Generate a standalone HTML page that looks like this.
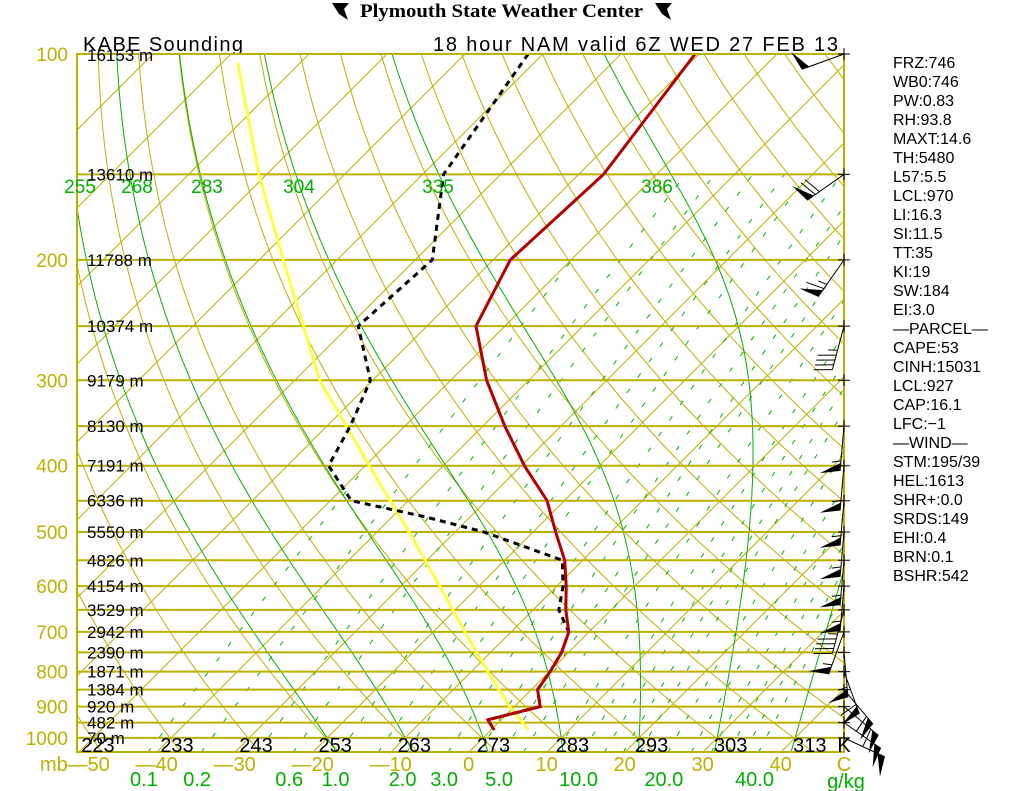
<!DOCTYPE html>
<html><head><meta charset="utf-8"><title>KABE Sounding</title>
<style>
html,body{margin:0;padding:0;background:#fff;width:1024px;height:791px;overflow:hidden}
svg{display:block}
text{font-family:"Liberation Sans",sans-serif}
</style></head>
<body>
<svg id="chart" width="1024" height="791" viewBox="0 0 1024 791" xmlns="http://www.w3.org/2000/svg">
<defs><clipPath id="plotclip"><rect x="77" y="54" width="767" height="698"/></clipPath></defs>
<g>
  <path d="M332 3 L349 3 L344 9 L348 20 L339 14 Z" fill="#000"/>
  <text x="360" y="17" textLength="283" lengthAdjust="spacingAndGlyphs" font-weight="bold" font-size="19" style="font-family:'Liberation Serif',serif">Plymouth State Weather Center</text>
  <path d="M655 3 L672 3 L667 9 L671 20 L662 14 Z" fill="#000"/>
</g>
<text x="83" y="51" font-size="20" textLength="160" lengthAdjust="spacing" fill="#000">KABE Sounding</text>
<text x="433" y="51" font-size="20" textLength="405" lengthAdjust="spacing" fill="#000">18 hour NAM valid 6Z WED 27 FEB 13</text>
<g id="grid" clip-path="url(#plotclip)"></g>
<g id="over"></g>
</svg>
<script>
// ---- data ----
const isobarP=[100,150,200,250,300,350,400,450,500,550,600,650,700,750,800,850,900,950,1000];
const heightLabels=["16153 m","13610 m","11788 m","10374 m","9179 m","8130 m","7191 m","6336 m","5550 m","4826 m","4154 m","3529 m","2942 m","2390 m","1871 m","1384 m","920 m","482 m","70 m"];
const pLabels=[100,200,300,400,500,600,700,800,900,1000];
const tempTicks=[-50,-40,-30,-20,-10,0,10,20,30,40];
const thetaLabels=[223,233,243,253,263,273,283,293,303,313];
const mixLabels=[0.1,0.2,0.6,1.0,2.0,3.0,5.0,10.0,20.0,40.0];
const mixLines=[0.1,0.2,0.4,0.6,1,1.5,2,3,4,5,6,8,10,12,14,16,20,24,28,32,36,40];
const moistStart=[-20,-10,0,10,20,30,40];
const moistLabels=["255","268","283","304","335","386"];
const moistLabelX=[80,137,207,299,438,657];
const tempP=[100,150,200,250,300,350,400,450,500,550,600,650,700,750,800,850,900,941,974];
const tempC=[-60.5,-56.8,-57.8,-53.7,-45.4,-37.2,-29.6,-22.2,-17.1,-12.3,-8.8,-5.8,-2.6,-0.9,0.1,0.8,3.3,-1.7,0.4];
const dewP=[100,150,200,250,300,350,400,450,475,500,550,600,650,700,750,800,850,900,941,974];
const dewC=[-81.9,-77.3,-67.8,-68.8,-60.3,-57.0,-54.7,-47.3,-35.8,-26.3,-12.6,-9.2,-6.7,-2.6,-0.9,0.1,0.8,3.3,-1.7,0.4];
const parcelP=[972,900,800,700,600,500,400,300,200,150,103];
const parcelC=[4.7,-0.6,-7.9,-15.9,-25,-35.9,-49.5,-66.8,-86.9,-101,-118];
const windP=[100,150,200,250,350,400,450,500,550,600,650,700,750,800,850,900,950,1000];
const windDir=[250,235,215,195,185,185,185,185,185,185,195,200,175,160,140,130,125,115];
const windSpd=[50,70,65,45,55,55,55,55,55,55,45,55,55,60,60,60,55,50];
const statLines=["FRZ:746","WB0:746","PW:0.83","RH:93.8","MAXT:14.6","TH:5480","L57:5.5","LCL:970","LI:16.3","SI:11.5","TT:35","KI:19","SW:184","EI:3.0","\u2014PARCEL\u2014","CAPE:53","CINH:15031","LCL:927","CAP:16.1","LFC:\u22121","\u2014WIND\u2014","STM:195/39","HEL:1613","SHR+:0.0","SRDS:149","EHI:0.4","BRN:0.1","BSHR:542"];

// ---- axes ----
const NS="http://www.w3.org/2000/svg";
const YEL="#bdb000", GRN="#00b000";
function yP(p){return 54+297*Math.log(p/100);}
function xT(T,p){return 469+7.8*T+(752-yP(p));}
function es(Tc){return 6.112*Math.exp(17.67*Tc/(Tc+243.5));}
const grid=document.getElementById('grid'), over=document.getElementById('over');
function mk(tag,attrs,parent){const e=document.createElementNS(NS,tag);for(const k in attrs)e.setAttribute(k,attrs[k]);parent.appendChild(e);return e;}
function pathFrom(pts){return pts.map((q,i)=>(i?'L':'M')+q[0].toFixed(1)+' '+q[1].toFixed(1)).join(' ');}

for(let T=-150;T<=50;T+=10){
  const e=mk('line',{x1:xT(T,1050),y1:yP(1050),x2:xT(T,100),y2:yP(100),stroke:YEL,'stroke-width':1},grid);
  
  
}
for(let th=213;th<=473;th+=10){
  const pts=[];for(let p=1050;p>=100;p-=10){pts.push([xT(th*Math.pow(p/1000,0.286)-273.15,p),yP(p)]);}
  const e=mk('path',{d:pathFrom(pts),fill:'none',stroke:YEL,'stroke-width':1},grid);
  
  
}
for(const w of mixLines){
  const pts=[];
  for(let p=1050;p>=150;p-=10){const e0=(w/1000)*p/(0.622+w/1000);const a=Math.log(e0/6.112);const T=243.5*a/(17.67-a);if(T<-50)break;pts.push([xT(T,p),yP(p)]);}
  if(pts.length<2)continue;
  const e=mk('path',{d:pathFrom(pts),fill:'none',stroke:GRN,'stroke-width':1,'stroke-dasharray':'5,14'},grid);
  
  
}
function moistPath(T0){
  const pts=[];
  const grad=(Tk,p)=>{const Tc=Tk-273.15;const e=es(Tc);const rs=0.622*e/(p-e);const Lv=2.5e6,Rd=287,cp=1005;return (Rd*Tk+Lv*rs)/(cp+Lv*Lv*rs*0.622/(Rd*Tk*Tk));};
  let Tk=T0+273.15;for(let pp=1000;pp<1050;pp+=5){Tk+=grad(Tk,pp)*Math.log((pp+5)/pp);}
  let p=1050;pts.push([xT(Tk-273.15,p),yP(p)]);
  while(p>100){const np=p-5;Tk-=grad(Tk,p)*Math.log(p/np);p=np;pts.push([xT(Tk-273.15,p),yP(p)]);}
  return pts;
}
moistStart.forEach(T0=>{
  const e=mk('path',{d:pathFrom(moistPath(T0)),fill:'none',stroke:GRN,'stroke-width':1},grid);
  
  
});
isobarP.forEach(p=>{
  const e=mk('line',{x1:77,y1:yP(p),x2:844,y2:yP(p),stroke:YEL,'stroke-width':2},grid);
  
  
});
const fr=mk('rect',{x:77,y:54,width:767,height:698,fill:'none',stroke:YEL,'stroke-width':2},over);


isobarP.forEach(p=>{
  const y=yP(p);
  const t=mk('path',{d:`M838 ${y} H850 M844 ${y-6} V${y+6}`,stroke:'#000','stroke-width':1},over);
  
  
});
moistLabels.forEach((s,i)=>{
  const t=mk('text',{x:moistLabelX[i],y:193,'font-size':19,fill:GRN,'text-anchor':'middle'},over);t.textContent=s;
  
  
});
isobarP.forEach((p,i)=>{
  const t=mk('text',{x:87,y:yP(p)+(i===0?7:6),'font-size':17,fill:'#000'},over);t.textContent=heightLabels[i];
  
  
});
pLabels.forEach(p=>{
  const t=mk('text',{x:68,y:yP(p)+7,'font-size':19,fill:YEL,'text-anchor':'end'},over);t.textContent=p;
  
  
});
thetaLabels.forEach(th=>{
  const x=xT(th*Math.pow(1.05,0.286)-273.15,1050)-4;
  const t=mk('text',{x:x,y:752,'font-size':20,fill:'#000','text-anchor':'middle'},over);t.textContent=th;
  
  
});
{const t=mk('text',{x:844,y:752,'font-size':20,fill:'#000','text-anchor':'middle'},over);t.textContent='K';

}
tempTicks.forEach(T=>{
  const s=T<0?'\u2014'+(-T):String(T);
  const t=mk('text',{x:xT(T,1050)+(T===-50?10:0),y:771,'font-size':20,fill:YEL,'text-anchor':'middle'},over);t.textContent=s;
  
  
});
{const t=mk('text',{x:40,y:771,'font-size':20,fill:YEL},over);t.textContent='mb';


const c=mk('text',{x:844,y:771,'font-size':20,fill:YEL,'text-anchor':'middle'},over);c.textContent='C';

}
mixLabels.forEach(w=>{
  const p=1050;const e0=(w/1000)*p/(0.622+w/1000);const a=Math.log(e0/6.112);const T=243.5*a/(17.67-a);
  const t=mk('text',{x:xT(T,p)-4,y:786,'font-size':20,fill:GRN,'text-anchor':'middle'},over);t.textContent=w.toFixed(1);
  
  
});
{const t=mk('text',{x:846,y:788,'font-size':20,fill:GRN,'text-anchor':'middle'},over);t.textContent='g/kg';

}
function series(P,C,attrs,name){
  const pts=P.map((p,i)=>[xT(C[i],p),yP(p)]);
  const e=mk('path',Object.assign({d:pathFrom(pts),fill:'none'},attrs),grid);
  
  
}
series(parcelP,parcelC,{stroke:'#ffff40','stroke-width':3},'parcel-line');
series(dewP,dewC,{stroke:'#000','stroke-width':3,'stroke-dasharray':'6,5'},'dewpoint-line');
series(tempP,tempC,{stroke:'#b00000','stroke-width':3},'temperature-line');
windP.forEach((p,i)=>{
  const d=windDir[i]*Math.PI/180, sx=844, sy=yP(p);
  const ux=Math.sin(d), uy=-Math.cos(d), L=45;
  const px=-uy, py=ux;
  const g=mk('g',{},over);
  
  
  let ex=sx+ux*L, ey=sy+uy*L;
  mk('line',{x1:sx,y1:sy,x2:ex,y2:ey,stroke:'#000','stroke-width':1},g);
  let s=windSpd[i], pos=L;
  while(s>=50){
    const bx=sx+ux*pos,by=sy+uy*pos,cx=sx+ux*(pos-8),cy=sy+uy*(pos-8);
    mk('polygon',{points:`${bx},${by} ${bx+px*20+ux*4},${by+py*20+uy*4} ${cx},${cy}`,fill:'#000'},g);
    pos-=10;s-=50;
  }
  while(s>=10){
    const bx=sx+ux*pos,by=sy+uy*pos;
    mk('line',{x1:bx,y1:by,x2:bx+px*18+ux*5,y2:by+py*18+uy*5,stroke:'#000','stroke-width':1},g);
    pos-=5;s-=10;
  }
  if(s>=5){const bx=sx+ux*pos,by=sy+uy*pos;mk('line',{x1:bx,y1:by,x2:bx+px*9+ux*2,y2:by+py*9+uy*2,stroke:'#000','stroke-width':1},g);}
});
statLines.forEach((s,i)=>{
  const t=mk('text',{x:893,y:68+i*19,'font-size':16,fill:'#000'},over);t.textContent=s;
  
  
});
</script>
</body></html>
